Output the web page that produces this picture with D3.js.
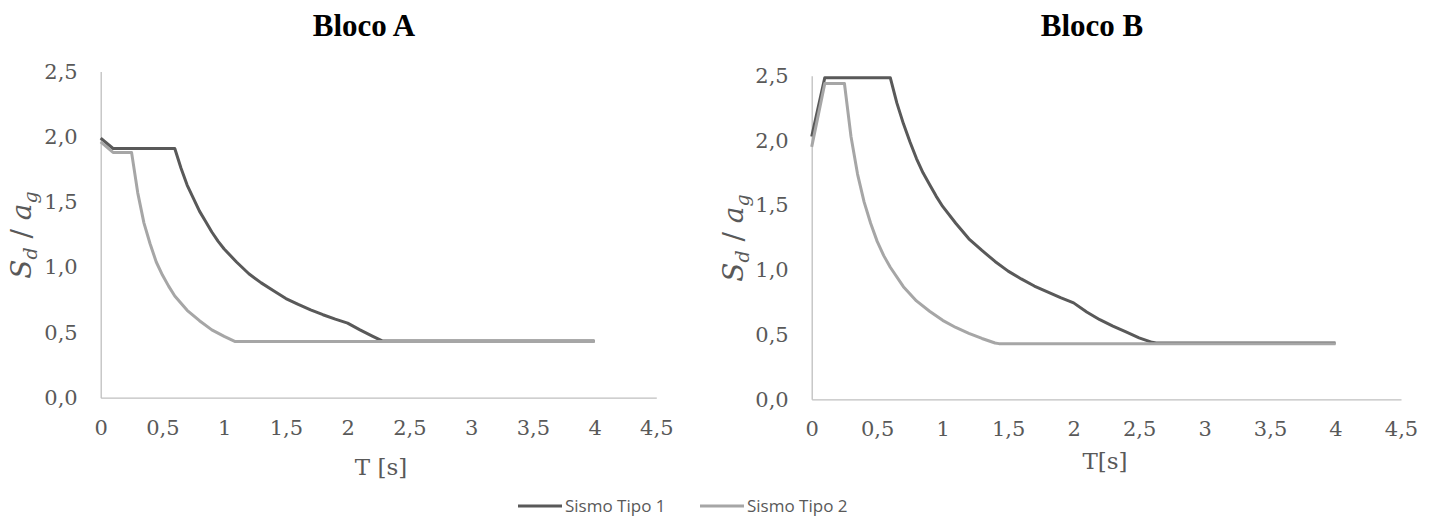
<!DOCTYPE html>
<html><head><meta charset="utf-8">
<script src="https://cdn.jsdelivr.net/npm/d3@7"></script>
<style>body{margin:0;background:#fff}svg{display:block}</style>
</head><body>
<svg id="c" width="1432" height="518"></svg>
<script>
// ---- data ----
const seriesNames = ["Sismo Tipo 1", "Sismo Tipo 2"];
const xTicks = [0, 0.5, 1, 1.5, 2, 2.5, 3, 3.5, 4, 4.5];
const yTicks = [0, 0.5, 1.0, 1.5, 2.0, 2.5];

const blocoA_T1_T = [0, 0.1, 0.6, 0.65, 0.7, 0.75, 0.8, 0.85, 0.9, 0.95, 1.0, 1.1, 1.2, 1.3, 1.4, 1.5, 1.6, 1.7, 1.8, 1.9, 2.0, 2.1, 2.2, 2.28, 4.0];
const blocoA_T1_S = [1.99, 1.91, 1.91, 1.76, 1.63, 1.53, 1.43, 1.35, 1.27, 1.20, 1.14, 1.04, 0.95, 0.88, 0.82, 0.76, 0.715, 0.673, 0.636, 0.602, 0.572, 0.52, 0.472, 0.435, 0.435];
const blocoA_T2_T = [0, 0.1, 0.25, 0.3, 0.35, 0.4, 0.45, 0.5, 0.55, 0.6, 0.7, 0.8, 0.9, 1.0, 1.09, 4.0];
const blocoA_T2_S = [1.96, 1.88, 1.88, 1.57, 1.34, 1.18, 1.04, 0.94, 0.855, 0.78, 0.67, 0.59, 0.52, 0.47, 0.43, 0.43];

const blocoB_T1_T = [0, 0.1, 0.6, 0.65, 0.7, 0.75, 0.8, 0.85, 0.9, 0.95, 1.0, 1.1, 1.2, 1.3, 1.4, 1.5, 1.6, 1.7, 1.8, 1.9, 2.0, 2.1, 2.2, 2.3, 2.4, 2.5, 2.6, 2.63, 4.0];
const blocoB_T1_S = [2.03, 2.485, 2.485, 2.29, 2.13, 1.99, 1.86, 1.75, 1.66, 1.57, 1.49, 1.36, 1.24, 1.15, 1.065, 0.99, 0.93, 0.875, 0.83, 0.785, 0.745, 0.675, 0.615, 0.565, 0.52, 0.475, 0.44, 0.435, 0.435];
const blocoB_T2_T = [0, 0.1, 0.25, 0.3, 0.35, 0.4, 0.45, 0.5, 0.55, 0.6, 0.7, 0.8, 0.9, 1.0, 1.1, 1.2, 1.3, 1.4, 1.43, 4.0];
const blocoB_T2_S = [1.95, 2.44, 2.44, 2.03, 1.74, 1.525, 1.36, 1.22, 1.11, 1.02, 0.87, 0.76, 0.68, 0.61, 0.555, 0.51, 0.47, 0.435, 0.43, 0.43];

const colors = ["#595959", "#A6A6A6"];
const fmt = v => d3.format(",")(v).replace(".", ",");
const fmt1 = v => v.toFixed(1).replace(".", ",");

const svg = d3.select("#c");

function panel(cfg) {
  const g = svg.append("g");
  const x = d3.scaleLinear().domain([0, 4.5]).range([cfg.x0, cfg.x1]);
  const y = d3.scaleLinear().domain([0, 2.5]).range([cfg.y0, cfg.y1]);

  // axes
  const xa = g.append("g").attr("transform", `translate(0,${cfg.y0})`)
    .call(d3.axisBottom(x).tickValues(xTicks).tickSize(0).tickPadding(24).tickFormat(fmt));
  const ya = g.append("g").attr("transform", `translate(${cfg.x0},0)`)
    .call(d3.axisLeft(y).tickValues(yTicks).tickSize(0).tickPadding(23).tickFormat(fmt1));
  [xa, ya].forEach(a => {
    a.select(".domain").attr("stroke", "#BFBFBF").attr("stroke-width", 1.3);
    a.selectAll("text").attr("font-family", "DejaVu Serif").attr("font-size", 21).attr("fill", "#595959");
  });
  xa.selectAll("text").attr("dy", "0.62em");

  // lines
  const line = d3.line().x(d => x(d[0])).y(d => y(d[1]));
  cfg.series.forEach((s, i) => {
    const pts = s.T.map((t, k) => [t, s.S[k]]);
    g.append("path").datum(pts).attr("d", line).attr("fill", "none")
      .attr("stroke", colors[i]).attr("stroke-width", 3).attr("stroke-linejoin", "round");
  });

  // title
  g.append("text").attr("x", cfg.titleX).attr("y", 36).attr("text-anchor", "middle")
    .attr("font-family", "Liberation Serif").attr("font-weight", "bold").attr("font-size", 31)
    .attr("fill", "#000").text(cfg.title);

  // x title
  g.append("text").attr("x", cfg.xtX).attr("y", cfg.xtY).attr("text-anchor", "middle")
    .attr("font-family", "DejaVu Serif").attr("font-size", 23).attr("fill", "#595959").text(cfg.xTitle);

  // y title
  const yt = g.append("text").attr("transform", `translate(${cfg.ytX},${cfg.ytY}) rotate(-90)`)
    .attr("text-anchor", "middle").attr("font-family", "DejaVu Serif").attr("font-style", "italic")
    .attr("font-size", 28).attr("fill", "#595959");
  yt.append("tspan").text("S");
  yt.append("tspan").attr("font-size", 19).attr("dy", 6).text("d");
  yt.append("tspan").attr("dy", -6).attr("font-style", "normal").text(" / ");
  yt.append("tspan").text("a");
  yt.append("tspan").attr("font-size", 19).attr("dy", 6).text("g");
}

panel({x0: 100.7, x1: 656.3, y0: 397.7, y1: 71.5, title: "Bloco A", titleX: 364,
  xTitle: "T [s]", xtX: 381, xtY: 475, ytX: 31, ytY: 235,
  series: [{T: blocoA_T1_T, S: blocoA_T1_S}, {T: blocoA_T2_T, S: blocoA_T2_S}]});
panel({x0: 811.7, x1: 1401, y0: 399.3, y1: 75.7, title: "Bloco B", titleX: 1092,
  xTitle: "T[s]", xtX: 1105, xtY: 469, ytX: 743, ytY: 238,
  series: [{T: blocoB_T1_T, S: blocoB_T1_S}, {T: blocoB_T2_T, S: blocoB_T2_S}]});

// legend
const legX = [518, 700];
const lg = svg.append("g");
seriesNames.forEach((n, i) => {
  lg.append("line").attr("x1", legX[i]).attr("x2", legX[i] + 44).attr("y1", 506).attr("y2", 506)
    .attr("stroke", colors[i]).attr("stroke-width", 3);
  lg.append("text").attr("x", legX[i] + 47).attr("y", 512)
    .attr("font-family", "Liberation Sans Narrow, Open Sans, sans-serif").attr("font-size", 17)
    .attr("fill", "#595959").text(n);
});
</script>
</body></html>
